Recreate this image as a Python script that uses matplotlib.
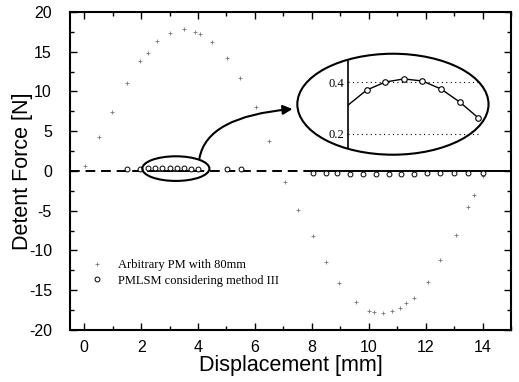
import matplotlib
matplotlib.use("Agg")
import matplotlib.pyplot as plt
import numpy as np
from matplotlib.patches import Ellipse, FancyArrowPatch
from matplotlib.ticker import MultipleLocator

plt.rcParams['axes.unicode_minus'] = False

# ---- data ----
pm_x = [0.04, 0.53, 0.98, 1.5, 1.97, 2.25, 2.57, 3.03, 3.52, 3.9, 4.08, 4.5, 5.03, 5.46,
        6.02, 6.48, 7.04, 7.5, 8.03, 8.49, 8.94, 9.54, 10.0, 10.2, 10.5, 10.8, 11.1, 11.3,
        11.6, 12.07, 12.5, 13.06, 13.5, 13.7, 14.0]
pm_y = [0.6, 4.3, 7.4, 11.1, 13.8, 14.9, 16.4, 17.4, 17.8, 17.5, 17.2, 16.2, 14.2, 11.7,
        8.1, 3.8, -1.4, -4.9, -8.2, -11.4, -14.1, -16.5, -17.6, -17.7, -17.8, -17.6, -17.2,
        -16.6, -16.0, -13.9, -11.2, -8.1, -4.5, -3.0, -0.6]

pmlsm_x = [1.5, 1.97, 2.25, 2.5, 2.75, 3.0, 3.25, 3.5, 3.75, 4.0, 5.03, 5.5,
           8.03, 8.5, 8.9, 9.35, 9.8, 10.25, 10.7, 11.15, 11.6, 12.05, 12.5, 13.0, 13.5, 14.0]
pmlsm_y = [0.3, 0.3, 0.37, 0.40, 0.41, 0.40, 0.37, 0.32, 0.26, 0.25, 0.3, 0.3,
           -0.3, -0.3, -0.31, -0.36, -0.39, -0.41, -0.40, -0.37, -0.33, -0.30, -0.28, -0.3, -0.3, -0.3]

inset_x = [2.25, 2.5, 2.75, 3.0, 3.25, 3.5, 3.75]
inset_y = [0.369, 0.400, 0.412, 0.404, 0.373, 0.323, 0.262]
inset_start = 0.311

x_ticks = [0, 2, 4, 6, 8, 10, 12, 14]
y_ticks = [-20, -15, -10, -5, 0, 5, 10, 15, 20]

# ---- figure ----
fig = plt.figure(figsize=(5.19, 3.82), dpi=100)
ax = fig.add_axes([70/519, 1-330/382, 441/519, 318/382])
ax.set_xlim(-0.5, 15)
ax.set_ylim(-20, 20)

ax.plot(pm_x, pm_y, linestyle='none', marker='+', markersize=2.6, mew=0.6,
        color='#777777', label='Arbitrary PM with 80mm', zorder=3)

# zero line: dashed then solid
ax.plot([-0.5, 7.8], [0, 0], color='black', lw=1.4, linestyle=(0, (5, 3)), zorder=2)
ax.plot([7.8, 15], [0, 0], color='black', lw=1.4, zorder=2)

px = np.array(pmlsm_x)
py = np.array(pmlsm_y)
ax.plot(px, py, linestyle='none', marker='o', markersize=3.5, mfc='white', mec='black',
        mew=0.7, label='PMLSM considering method III', zorder=4)
seg = (px >= 2.2) & (px <= 4.05)
ax.plot(px[seg], py[seg] * 0, color='black', lw=1.2, zorder=2)

ax.set_xticks(x_ticks)
ax.set_yticks(y_ticks)
ax.xaxis.set_minor_locator(MultipleLocator(1))
ax.yaxis.set_minor_locator(MultipleLocator(2.5))
ax.tick_params(which='both', direction='in', top=True, right=True, labelsize=11.5, width=1.0)
ax.tick_params(which='major', length=5)
ax.tick_params(which='minor', length=3)
ax.tick_params(axis='x', which='major', pad=7)
ax.tick_params(axis='y', which='major', pad=13)
for lab in ax.get_xticklabels() + ax.get_yticklabels():
    lab.set_fontfamily('Liberation Sans')
for s in ax.spines.values():
    s.set_linewidth(1.5)

ax.set_xlabel('Displacement [mm]', fontsize=15.5, family='Liberation Sans', labelpad=0)
ax.set_ylabel('Detent Force [N]', fontsize=15.5, family='Liberation Sans', labelpad=-3)

leg = ax.legend(loc='lower left', bbox_to_anchor=(0.035, 0.12), frameon=False,
                prop={'family': 'Liberation Serif', 'size': 9}, handlelength=1.0,
                handletextpad=1.2, labelspacing=0.3, borderaxespad=0)

# small ellipse
ax.add_patch(Ellipse((3.22, 0.3), 2.36, 3.1, fill=False, lw=1.5, color='black', zorder=5))
# big ellipse
big = Ellipse((10.85, 8.4), 6.72, 12.7, fill=False, lw=1.5, color='black', zorder=5)
ax.add_patch(big)
bg = Ellipse((10.85, 8.4), 6.72, 12.7, fill=True, facecolor='white', edgecolor='none', zorder=4.5)
ax.add_patch(bg)

arr = FancyArrowPatch((4.05, 1.6), (7.32, 7.8), connectionstyle="angle3,angleA=80,angleB=5",
                      arrowstyle='-|>', mutation_scale=14, lw=1.5, color='black',
                      shrinkA=0, shrinkB=0, zorder=6)
ax.add_patch(arr)

# inset
axi = fig.add_axes([348/519, 1-155/382, 140/519, 101/382])
axi.set_facecolor('none')
axi.set_xlim(2.0, 3.88)
axi.set_ylim(0.119, 0.508)
for k in ['top', 'right', 'bottom']:
    axi.spines[k].set_visible(False)
axi.spines['left'].set_linewidth(1.2)
clip = Ellipse((10.85, 8.4), 6.72, 12.7, transform=ax.transData)
axi.spines['left'].set_clip_path(clip)
axi.set_xticks([])
axi.set_yticks([0.2, 0.4])
axi.set_yticklabels(['0.2', '0.4'])
axi.tick_params(axis='y', length=0, pad=3, labelsize=9)
for lab in axi.get_yticklabels():
    lab.set_fontfamily('Liberation Serif')
for yv in [0.2, 0.4]:
    axi.plot([2.0, inset_x[-1]], [yv, yv], color='black', lw=0.8, linestyle=(0, (1, 3)))
axi.plot([2.0] + inset_x, [inset_start] + inset_y, color='black', lw=1.0)
axi.plot(inset_x, inset_y, linestyle='none', marker='o', markersize=4, mfc='white',
         mec='black', mew=0.8)

fig.savefig('out.png', dpi=100)
